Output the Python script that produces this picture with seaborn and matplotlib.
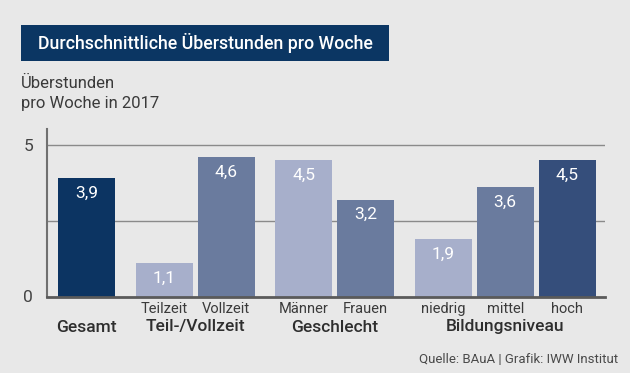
import numpy as np
import pandas as pd
import matplotlib
matplotlib.use("Agg")
import matplotlib.pyplot as plt
import matplotlib.transforms as mtransforms
from matplotlib.patches import Rectangle
import seaborn as sns

# data
categories = ["Gesamt", "Teilzeit", "Vollzeit", "Männer", "Frauen", "niedrig", "mittel", "hoch"]
values = [3.9, 1.1, 4.6, 4.5, 3.2, 1.9, 3.6, 4.5]
positions = [0, 1.25, 2.25, 3.5, 4.5, 5.75, 6.75, 7.75]
tick_labels = ["", "Teilzeit", "Vollzeit", "Männer", "Frauen", "niedrig", "mittel", "hoch"]
groups = ["Gesamt", "Teil-/Vollzeit", "Geschlecht", "Bildungsniveau"]
group_centers = [0, 1.75, 4.0, 6.75]
bar_colors = ["#0c3462", "#a7afcb", "#6a7b9e", "#a7afcb", "#6a7b9e", "#a7afcb", "#6a7b9e", "#354e7b"]

bg = "#e8e8e8"
sns.set_style("white")
plt.rcParams["font.family"] = ["Roboto", "DejaVu Sans"]

df = pd.DataFrame({"pos": positions, "wert": values, "kat": categories})

fig = plt.figure(figsize=(6.3, 3.73), dpi=100, facecolor=bg)
ax = fig.add_axes([47 / 630, 1 - 296.5 / 373, 558 / 630, 167.5 / 373])
ax.set_facecolor(bg)

# grid lines behind bars
for g in [2.5, 5]:
    ax.axhline(g, color="#8a8a8a", lw=1.0, zorder=0)

sns.barplot(data=df, x="pos", y="wert", hue="kat", palette=bar_colors,
            native_scale=True, width=0.92, legend=False, ax=ax,
            saturation=1, edgecolor="none", zorder=2)

ax.set_xlim(-0.64, 8.36)
ax.set_ylim(0, 5.53)

# value labels inside bars
for p, v in zip(positions, values):
    ax.text(p, v - 0.5, f"{v:.1f}".replace(".", ","), ha="center", va="center",
            color="white", fontsize=12.5, zorder=3)

ax.set_xticks(positions)
ax.set_xticklabels(tick_labels, fontsize=10.5, color="#3a3a3a")
ax.tick_params(axis="x", length=0, pad=4)
ax.set_yticks([0, 5])
ax.set_yticklabels(["0", "5"], fontsize=12.5, color="#444444")
ax.tick_params(axis="y", length=3, width=1.2, color="#707070", pad=7, direction="out")
ax.set_xlabel("")
ax.set_ylabel("")

for s in ["top", "right"]:
    ax.spines[s].set_visible(False)
ax.spines["left"].set_color("#707070")
ax.spines["left"].set_linewidth(1.5)
ax.spines["bottom"].set_color("#5a5a5a")
ax.spines["bottom"].set_linewidth(2.0)
ax.spines["bottom"].set_zorder(4)

# group labels below tick labels
trans = mtransforms.blended_transform_factory(ax.transData, fig.transFigure)
for gx, gname in zip(group_centers, groups):
    ax.text(gx, 1 - 327 / 373, gname, transform=trans, ha="center", va="center",
            fontsize=12.5, fontweight="medium", color="#2e2e2e")

# title box
fig.patches.append(Rectangle((21 / 630, 1 - 61 / 373), 368 / 630, 36 / 373,
                             transform=fig.transFigure, facecolor="#0b3663",
                             edgecolor="none"))
fig.text(205 / 630, 1 - 43 / 373, "Durchschnittliche Überstunden pro Woche",
         ha="center", va="center", color="white", fontsize=12.8, fontweight="medium")

fig.text(21 / 630, 1 - 88 / 373, "Überstunden", ha="left", va="baseline",
         fontsize=12, color="#3a3a3a")
fig.text(21 / 630, 1 - 108 / 373, "pro Woche in 2017", ha="left", va="baseline",
         fontsize=12, color="#3a3a3a")

fig.text(618 / 630, 1 - 363 / 373, "Quelle: BAuA | Grafik: IWW Institut",
         ha="right", va="baseline", fontsize=9.5, color="#4a4a4a")

fig.savefig("out.png", dpi=100, facecolor=bg)
